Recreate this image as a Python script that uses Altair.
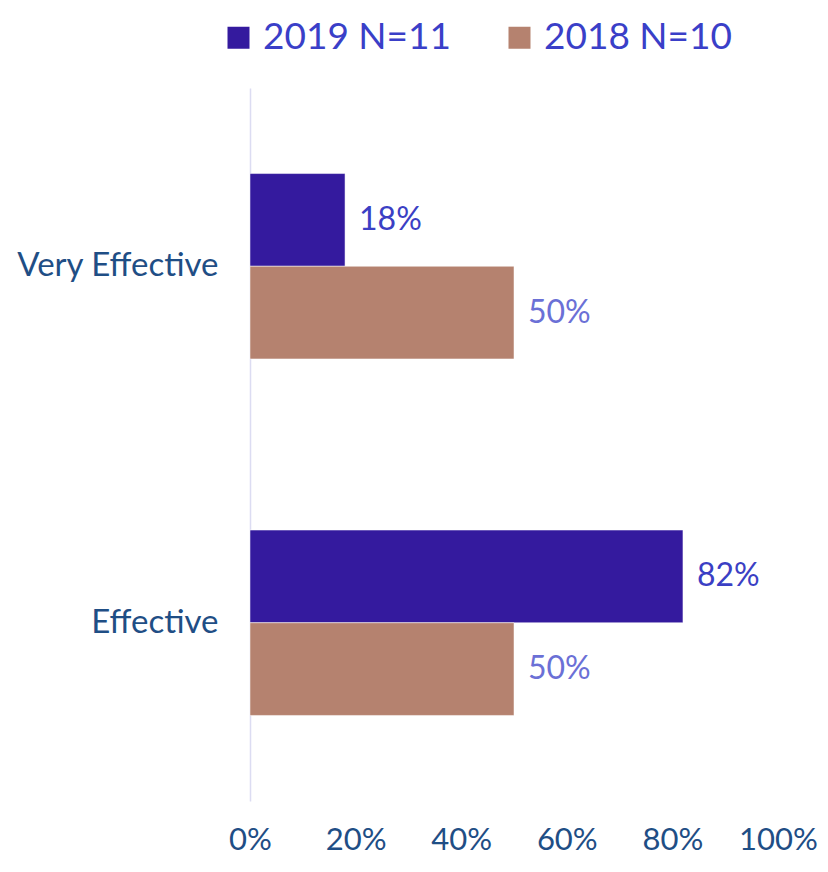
import altair as alt
import pandas as pd

categories = ["Very Effective", "Very Effective", "Effective", "Effective"]
series = ["2019 N=11", "2018 N=10", "2019 N=11", "2018 N=10"]
values = [18, 50, 82, 50]
labels = ["18%", "50%", "82%", "50%"]

cat_order = ["Very Effective", "Effective"]
series_order = ["2019 N=11", "2018 N=10"]
bar_colors = ["#341A9E", "#B5826F"]

df = pd.DataFrame({"category": categories, "series": series, "value": values, "label": labels})

FONT = "Lato"

base = alt.Chart(df).encode(
    y=alt.Y(
        "category:N",
        sort=cat_order,
        title=None,
        scale=alt.Scale(paddingInner=0.48, paddingOuter=0.24),
        axis=alt.Axis(
            labelFont=FONT, labelFontSize=33, labelColor="#1F4E85",
            ticks=False, domainColor="#DCDCF2", domainWidth=1.5,
            labelPadding=32, labelLimit=400,
        ),
    ),
    yOffset=alt.YOffset("series:N", sort=series_order, scale=alt.Scale(paddingInner=0, paddingOuter=0)),
    x=alt.X(
        "value:Q",
        title=None,
        scale=alt.Scale(domain=[0, 100], nice=False),
        axis=alt.Axis(
            values=[0, 20, 40, 60, 80, 100], labelExpr="datum.value + '%'",
            labelFont=FONT, labelFontSize=31, labelColor="#1F4E85",
            ticks=False, domain=False, grid=False,
            labelBaseline="alphabetic", labelPadding=48,
            labelFlush=False, labelOverlap=False,
        ),
    ),
)

bars = base.mark_bar(stroke="white", strokeWidth=0.5).encode(
    color=alt.Color(
        "series:N",
        sort=series_order,
        scale=alt.Scale(domain=series_order, range=bar_colors),
        legend=alt.Legend(
            title=None, orient="none", direction="horizontal",
            legendX=-30, legendY=-69,
            symbolType="square", symbolSize=484, symbolStrokeWidth=0,
            labelFont=FONT, labelFontSize=37, labelColor="#3A3FC8",
            labelOffset=6, columnPadding=50, labelLimit=400,
        ),
    )
)

text = base.mark_text(align="left", baseline="middle", dx=14, font=FONT, fontSize=32).encode(
    text="label:N",
    color=alt.condition(alt.datum.series == "2019 N=11", alt.value("#3B3FC4"), alt.value("#6B70D6")),
)

chart = (bars + text).properties(
    width=528, height=713,
    autosize=alt.AutoSizeParams(type="none"),
    padding={"left": 242, "top": 80, "right": 42, "bottom": 59},
).configure_view(stroke=None)

chart.save("out.html", embed_options={"renderer": "svg", "actions": False})
